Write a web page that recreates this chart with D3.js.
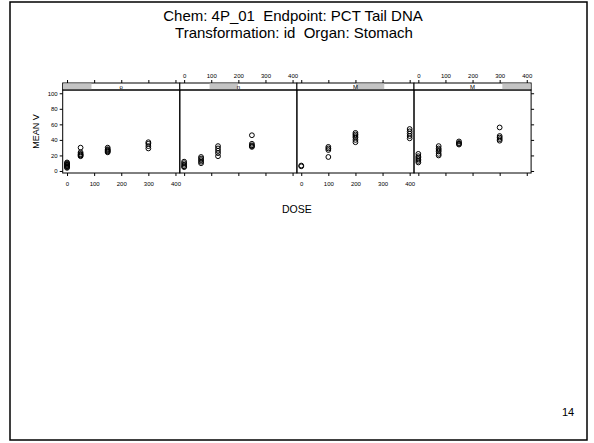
<!DOCTYPE html>
<html>
<head>
<meta charset="utf-8">
<script src="https://cdn.jsdelivr.net/npm/d3@7"></script>
<style>
  body { margin: 0; background: #fff; }
  text { font-family: "Liberation Sans", Arial, sans-serif; }
</style>
</head>
<body>
<div id="chart"></div>
<script>
// Chart values
const stripLabels = ["o", "n", "M", "M"];
const xTicks = [0, 100, 200, 300, 400];
const yTicks = [0, 20, 40, 60, 80, 100];

// dose levels per panel
const p1Doses = [0, 50, 150, 300];
const p2Doses = [0, 62.5, 125, 250];
const p3Doses = [0, 100, 200, 400];
const p4Doses = [0, 75, 150, 300];

// MEAN V values at each dose, per panel
const p1Values = [[4, 5, 6, 7, 8, 9, 10, 11], [30, 24, 22, 21, 20, 19], [30, 28, 27, 26, 25, 24], [37, 35, 32, 29]];
const p2Values = [[12, 10, 8, 6, 5], [18, 16, 14, 12, 10], [32, 29, 26, 23, 19], [46, 35, 33, 32, 31]];
const p3Values = [[7, 6], [31, 29, 27, 18], [49, 47, 45, 43, 40, 37], [54, 51, 48, 45, 42]];
const p4Values = [[22, 19, 17, 15, 13, 11], [32, 29, 27, 25, 22, 20], [38, 36, 35, 34], [56, 45, 43, 41, 39]];

const panelDoses = [p1Doses, p2Doses, p3Doses, p4Doses];
const panelValues = [p1Values, p2Values, p3Values, p4Values];

const width = 594, height = 443;
const left = 62.7, panelW = 117.1;
const stripTop = 83, plotTop = 90, plotBottom = 173;

const svg = d3.select("#chart").append("svg")
    .attr("width", width)
    .attr("height", height);

// slide frame
svg.append("rect")
    .attr("x", 10).attr("y", 2)
    .attr("width", 577).attr("height", 438)
    .attr("fill", "none").attr("stroke", "#000").attr("stroke-width", 1.5);

// title
svg.append("text")
    .attr("x", 293).attr("y", 21)
    .attr("text-anchor", "middle").attr("font-size", 15)
    .attr("xml:space", "preserve")
    .text("Chem: 4P_01  Endpoint: PCT Tail DNA");
svg.append("text")
    .attr("x", 294).attr("y", 38)
    .attr("text-anchor", "middle").attr("font-size", 15)
    .attr("xml:space", "preserve")
    .text("Transformation: id  Organ: Stomach");

const y = d3.scaleLinear()
    .domain([-2.6, 104.2])
    .range([plotBottom, plotTop]);

panelDoses.forEach((doses, i) => {
    const x0 = left + i * panelW;
    const x = d3.scaleLinear()
        .domain([-16, 416])
        .range([x0, x0 + panelW]);

    const g = svg.append("g");

    // strip with shaded level indicator
    g.append("rect")
        .attr("x", x0).attr("y", stripTop)
        .attr("width", panelW).attr("height", plotTop - stripTop)
        .attr("fill", "#fff").attr("stroke", "#000");
    g.append("rect")
        .attr("x", x0 + i * panelW / 4 + 0.5).attr("y", stripTop + 0.5)
        .attr("width", panelW / 4 - 1).attr("height", plotTop - stripTop - 1)
        .attr("fill", "#c4c4c4");
    g.append("text")
        .attr("x", x0 + panelW / 2).attr("y", plotTop - 1.5)
        .attr("text-anchor", "middle").attr("font-size", 6)
        .text(stripLabels[i]);

    // panel box
    g.append("rect")
        .attr("x", x0).attr("y", plotTop)
        .attr("width", panelW).attr("height", plotBottom - plotTop)
        .attr("fill", "none").attr("stroke", "#000");

    // bottom axis: labels on panels 1 and 3
    const bottom = g.append("g")
        .attr("transform", `translate(0,${plotBottom})`)
        .call(d3.axisBottom(x).tickValues(xTicks).tickSize(3).tickPadding(6)
            .tickFormat(i % 2 === 0 ? d3.format("d") : () => ""));
    // top axis: labels on panels 2 and 4
    const top = g.append("g")
        .attr("transform", `translate(0,${stripTop})`)
        .call(d3.axisTop(x).tickValues(xTicks).tickSize(3).tickPadding(2)
            .tickFormat(i % 2 === 1 ? d3.format("d") : () => ""));
    [bottom, top].forEach(a => {
        a.select(".domain").remove();
        a.selectAll("text").attr("font-size", 6).attr("font-family", "Liberation Sans, Arial, sans-serif");
    });

    // points
    doses.forEach((dose, j) => {
        g.selectAll(null)
            .data(panelValues[i][j])
            .enter()
            .append("circle")
            .attr("cx", x(dose))
            .attr("cy", d => y(d))
            .attr("r", 2.4)
            .attr("fill", "none")
            .attr("stroke", "#000")
            .attr("stroke-width", 1);
    });
});

// y axes
const yLeft = svg.append("g")
    .attr("transform", `translate(${left},0)`)
    .call(d3.axisLeft(y).tickValues(yTicks).tickSize(3).tickPadding(2));
const yRight = svg.append("g")
    .attr("transform", `translate(${left + 4 * panelW},0)`)
    .call(d3.axisRight(y).tickValues(yTicks).tickSize(3).tickFormat(() => ""));
[yLeft, yRight].forEach(a => {
    a.select(".domain").remove();
    a.selectAll("text").attr("font-size", 6).attr("font-family", "Liberation Sans, Arial, sans-serif");
});

// axis titles
svg.append("text")
    .attr("transform", `translate(39,${(plotTop + plotBottom) / 2}) rotate(-90)`)
    .attr("text-anchor", "middle").attr("font-size", 9)
    .text("MEAN V");
svg.append("text")
    .attr("x", left + 2 * panelW).attr("y", 213)
    .attr("text-anchor", "middle").attr("font-size", 10.5)
    .text("DOSE");

// page number
svg.append("text")
    .attr("x", 568).attr("y", 416)
    .attr("text-anchor", "middle").attr("font-size", 11)
    .text("14");
</script>
</body>
</html>
